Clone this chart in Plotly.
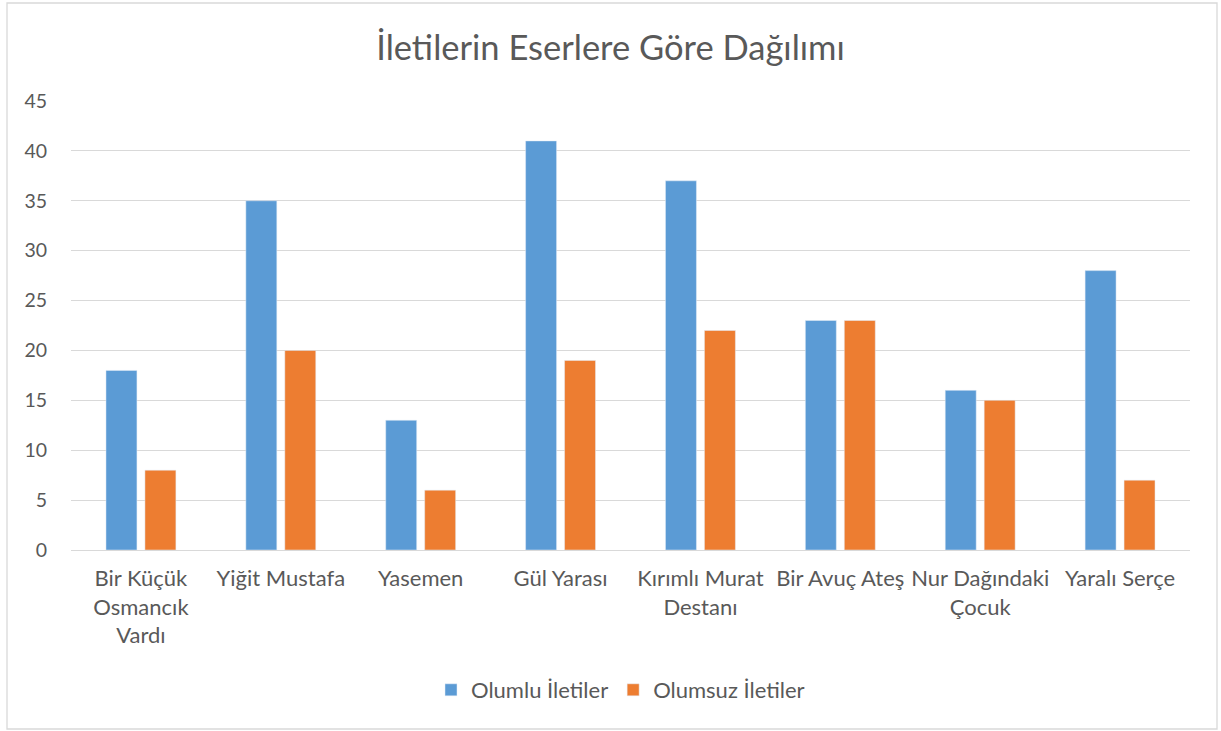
import plotly.graph_objects as go

categories = ["Bir Küçük<br>Osmancık<br>Vardı", "Yiğit Mustafa", "Yasemen", "Gül Yarası",
              "Kırımlı Murat<br>Destanı", "Bir Avuç Ateş", "Nur Dağındaki<br>Çocuk", "Yaralı Serçe"]
olumlu = [18, 35, 13, 41, 37, 23, 16, 28]
olumsuz = [8, 20, 6, 19, 22, 23, 15, 7]
y_ticks = [0, 5, 10, 15, 20, 25, 30, 35, 40, 45]

FONT = "Lato"
TXT = "#595959"
W, H = 1221, 731
ML, MR, MT, MB = 71, 31, 101, 181

fig = go.Figure()
fig.add_trace(go.Bar(x=categories, y=olumlu, name="Olumlu İletiler", marker_color="#5B9BD5"))
fig.add_trace(go.Bar(x=categories, y=olumsuz, name="Olumsuz İletiler", marker_color="#ED7D31"))

pw = W - ML - MR
ph = H - MT - MB
def px_x(p):
    return (p - ML) / pw
def px_y(p):
    return (H - MB - p) / ph

fig.update_layout(
    width=W, height=H,
    margin=dict(l=ML, r=MR, t=MT, b=MB),
    paper_bgcolor="white", plot_bgcolor="white",
    barmode="group", bargap=0.443, bargroupgap=0.205,
    title=dict(text="İletilerin Eserlere Göre Dağılımı", x=0.5, xanchor="center",
               y=1 - 48 / H, yanchor="middle",
               font=dict(family=FONT, size=34.5, color=TXT)),
    font=dict(family=FONT, color=TXT),
    legend=dict(orientation="h", x=px_x(431), xanchor="left", y=px_y(690), yanchor="middle",
                font=dict(family=FONT, size=22, color=TXT), itemwidth=30, traceorder="normal"),
    xaxis=dict(showgrid=False, showline=False, ticks="", tickfont=dict(size=22, color=TXT, family=FONT),
               ticklabelstandoff=13),
    yaxis=dict(range=[0, 45], tickvals=y_ticks, showgrid=True, gridcolor="#D9D9D9", gridwidth=1.3,
               zeroline=True, zerolinecolor="#D9D9D9", zerolinewidth=1.3, showline=False,
               tickfont=dict(size=19.5, color=TXT, family=FONT), ticks="", ticklabelstandoff=23),
    shapes=[dict(type="rect", xref="paper", yref="paper",
                 x0=px_x(7), x1=px_x(1217), y0=px_y(729), y1=px_y(3),
                 line=dict(color="#D9D9D9", width=1.3), fillcolor="rgba(0,0,0,0)", layer="below")],
)

fig.write_html("out.html", config={"displayModeBar": False},
               post_script="document.body.style.margin='0';document.body.style.overflow='hidden';")
